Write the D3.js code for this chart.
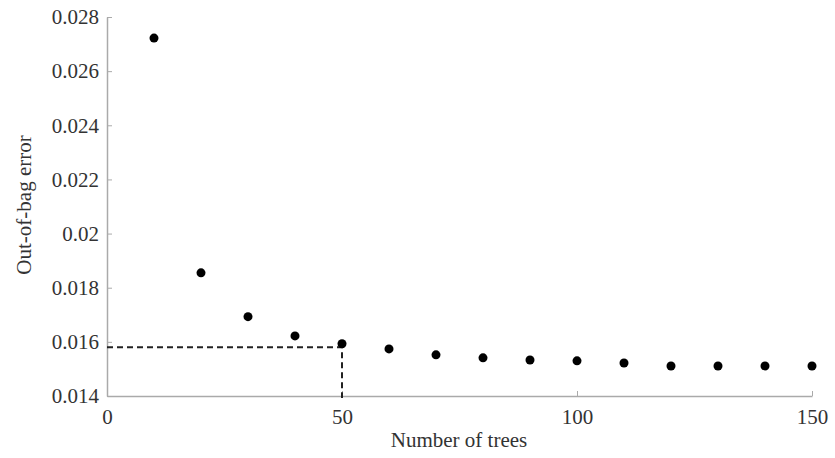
<!DOCTYPE html>
<html><head><meta charset="utf-8">
<script src="https://cdn.jsdelivr.net/npm/d3@7"></script>
<style>body{margin:0;background:#fff}</style>
</head><body><svg id="c" width="835" height="458"></svg>
<script>
const trees = [10,20,30,40,50,60,70,80,90,100,110,120,130,140,150];
const oobError = [0.02722,0.01855,0.01693,0.01622,0.01593,0.01574,0.01552,0.01541,0.01533,0.01530,0.01522,0.01511,0.01511,0.01511,0.01511];
const xTicks = [0,50,100,150];
const yTicks = [0.014,0.016,0.018,0.02,0.022,0.024,0.026,0.028];
const refTrees = 50, refError = 0.0158;

const FONT = "Liberation Serif";
const svg = d3.select("#c");
const x = d3.scaleLinear().domain([0,150]).range([107,812]);
const y = d3.scaleLinear().domain([0.014,0.028]).range([396,17]);
const axisColor = "#aaa";

const gx = svg.append("g").attr("transform","translate(0,396)")
  .call(d3.axisBottom(x).tickValues(xTicks).tickSizeInner(-5).tickSizeOuter(0).tickPadding(12).tickFormat(d3.format("d")));
const gy = svg.append("g").attr("transform","translate(107,0)")
  .call(d3.axisLeft(y).tickValues(yTicks).tickSizeInner(-5).tickSizeOuter(0).tickPadding(8).tickFormat(d=>String(+d.toFixed(3))));
[gx,gy].forEach(g=>{
  g.attr("font-family",FONT).attr("font-size",21);
  g.selectAll("path.domain").attr("stroke",axisColor).attr("stroke-width",1.5);
  g.selectAll(".tick line").attr("stroke",axisColor).attr("stroke-width",1);
  g.selectAll(".tick text").attr("fill","#333");
});
gx.selectAll(".tick text").attr("dy","0.75em");

svg.append("path")
  .attr("d",`M${x(0)},${y(refError)}H${x(refTrees)}V${y(0.014)+2}`)
  .attr("fill","none").attr("stroke","#222").attr("stroke-width",2).attr("stroke-dasharray","6,4");

svg.append("g").selectAll("circle").data(trees).join("circle")
  .attr("cx",d=>x(d)).attr("cy",(d,i)=>y(oobError[i])).attr("r",4.5).attr("fill","#000");

svg.append("text").attr("x",459).attr("y",447).attr("text-anchor","middle")
  .attr("font-family",FONT).attr("font-size",21).attr("fill","#333").text("Number of trees");
svg.append("text").attr("transform","translate(31,205) rotate(-90)").attr("text-anchor","middle")
  .attr("font-family",FONT).attr("font-size",21).attr("fill","#333").text("Out-of-bag error");
</script></body></html>
